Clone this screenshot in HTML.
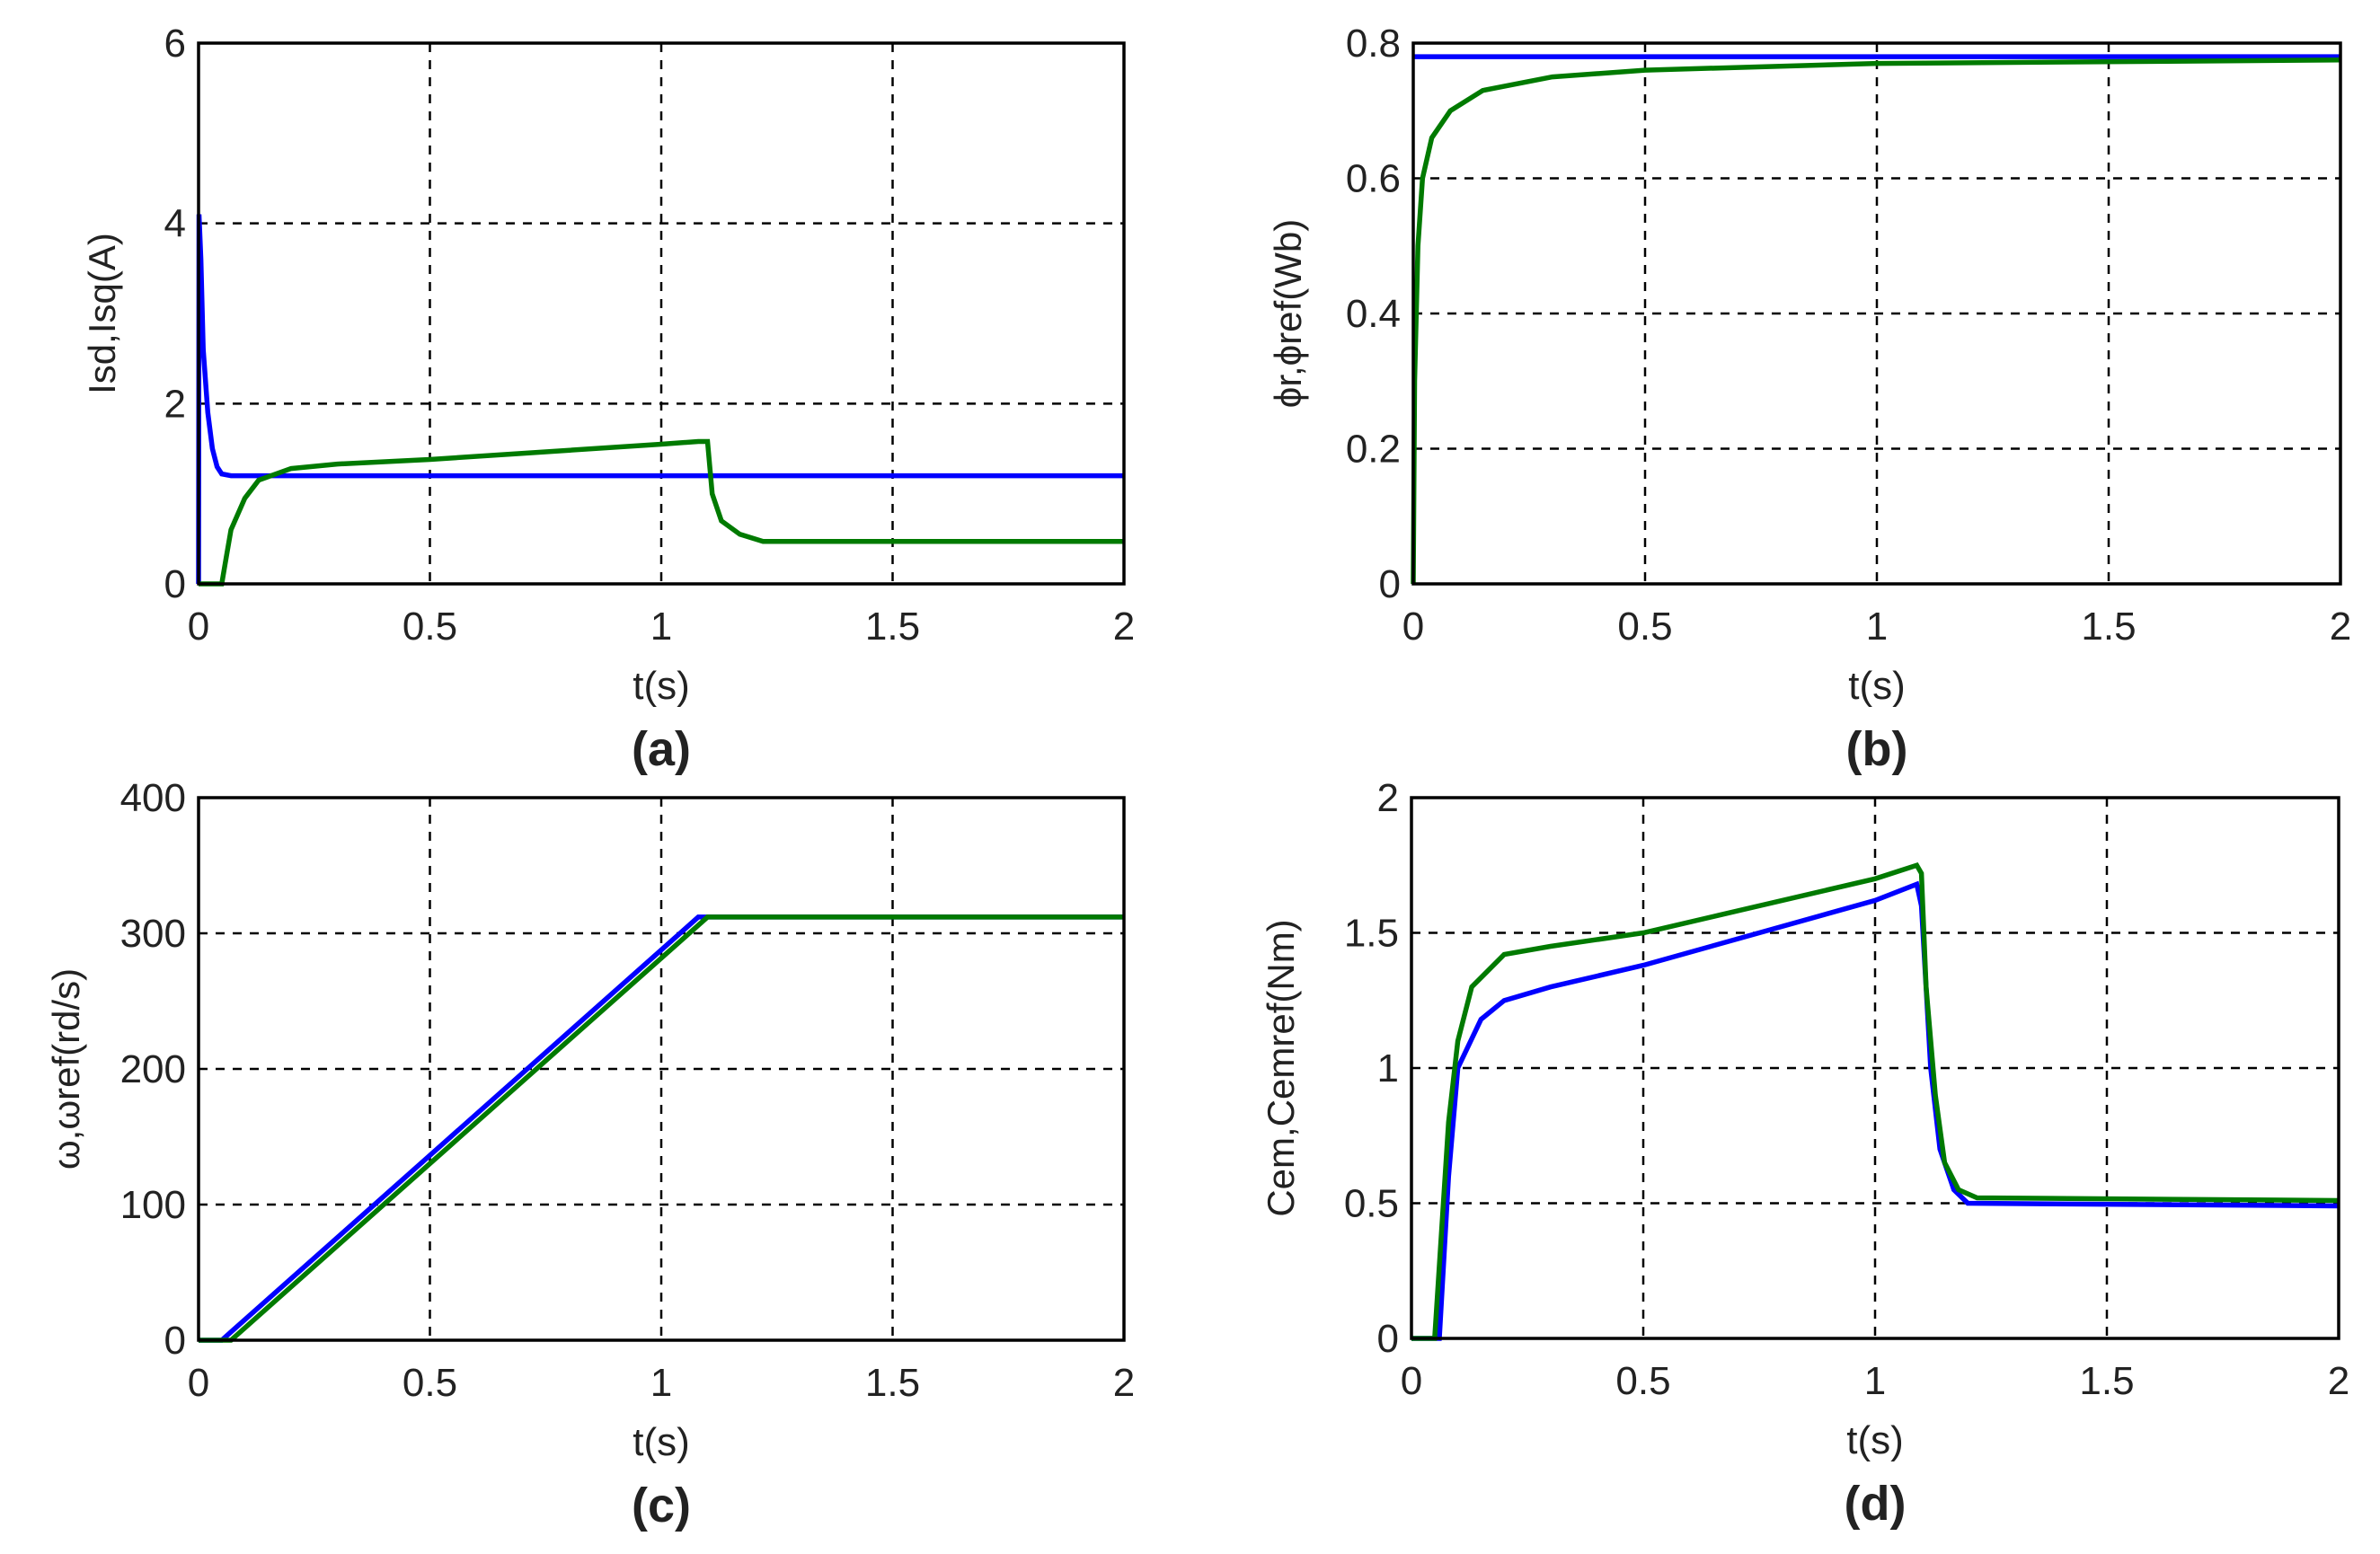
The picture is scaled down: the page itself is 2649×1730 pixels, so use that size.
<!DOCTYPE html>
<html><head><meta charset="utf-8"><style>
html,body{margin:0;padding:0;background:#fff;}
svg{display:block;}
text{font-family:"Liberation Sans",Arial,sans-serif;fill:#222;}
</style></head><body>
<svg id="fig" width="2649" height="1730" viewBox="0 0 2649 1730" xmlns="http://www.w3.org/2000/svg"></svg>
<script>
// ---- data ----
const xTicks=[0,0.5,1,1.5,2];
const xTickLabels=["0","0.5","1","1.5","2"];
const aYTicks=[0,2,4,6];
const aIsdT=[0,0.001,0.005,0.01,0.02,0.03,0.04,0.05,0.07,0.1,2];
const aIsdV=[0,4.1,3.6,2.6,1.9,1.5,1.3,1.22,1.2,1.2,1.2];
const aIsqT=[0,0.05,0.06,0.07,0.1,0.13,0.2,0.3,0.5,1.0,1.08,1.1,1.11,1.13,1.17,1.22,2];
const aIsqV=[0,0,0.3,0.6,0.95,1.15,1.28,1.33,1.38,1.55,1.58,1.58,1.0,0.7,0.55,0.47,0.47];
const bYTicks=[0,0.2,0.4,0.6,0.8];
const bPhirT=[0,0.003,0.01,0.02,0.04,0.08,0.15,0.3,0.5,1,2];
const bPhirV=[0,0.3,0.5,0.6,0.66,0.7,0.73,0.75,0.76,0.77,0.775];
const bRefT=[0,2];
const bRefV=[0.78,0.78];
const cYTicks=[0,100,200,300,400];
const cWT=[0,0.05,1.08,2];
const cWV=[0,0,312,312];
const cRefT=[0,0.07,1.1,2];
const cRefV=[0,0,312,312];
const dYTicks=[0,0.5,1,1.5,2];
const dYTickLabels=["0","0.5","1","1.5","2"];
const dCemT=[0,0.06,0.08,0.1,0.15,0.2,0.3,0.5,1.0,1.09,1.1,1.12,1.14,1.17,1.2,2];
const dCemV=[0,0,0.6,1.0,1.18,1.25,1.3,1.38,1.62,1.68,1.6,1.0,0.7,0.55,0.5,0.49];
const dRefT=[0,0.05,0.08,0.1,0.13,0.2,0.3,0.5,1.0,1.09,1.1,1.11,1.13,1.15,1.18,1.22,2];
const dRefV=[0,0,0.8,1.1,1.3,1.42,1.45,1.5,1.7,1.75,1.72,1.3,0.9,0.65,0.55,0.52,0.51];

const NS="http://www.w3.org/2000/svg";
const svg=document.getElementById('fig');
function mk(tag,attrs,parent){const e=document.createElementNS(NS,tag);for(const k in attrs)e.setAttribute(k,attrs[k]);(parent||svg).appendChild(e);return e;}

function panel(o){
  const g=mk('g',{});
  
  
  const X=t=>o.l+(t-0)/(2-0)*(o.r-o.l);
  const Y=v=>o.b-(v-o.ymin)/(o.ymax-o.ymin)*(o.b-o.t);
  // grid
  xTicks.forEach((t,i)=>{
    if(i>0&&i<xTicks.length-1){const ln=mk('line',{x1:X(t),x2:X(t),y1:o.t,y2:o.b,stroke:'#000','stroke-width':2.5,'stroke-dasharray':'10,9'},g);
    }
    const tx=mk('text',{x:X(t),y:o.b+62,'font-size':44,'text-anchor':'middle'},g);tx.textContent=xTickLabels[i];
    
  });
  o.yt.forEach((v,i)=>{
    if(i>0&&i<o.yt.length-1){const ln=mk('line',{x1:o.l,x2:o.r,y1:Y(v),y2:Y(v),stroke:'#000','stroke-width':2.5,'stroke-dasharray':'10,9'},g);
    }
    const tx=mk('text',{x:o.l-14,y:Y(v)+15,'font-size':44,'text-anchor':'end'},g);tx.textContent=o.ytl?o.ytl[i]:String(v);
    
  });
  // series
  o.series.forEach(s=>{
    const d=s.t.map((t,i)=>(i?'L':'M')+X(t).toFixed(1)+','+Y(s.v[i]).toFixed(1)).join(' ');
    const p=mk('path',{d:d,fill:'none',stroke:s.c,'stroke-width':5.5,'stroke-linejoin':'miter'},g);
    
  });
  const box=mk('rect',{x:o.l,y:o.t,width:o.r-o.l,height:o.b-o.t,fill:'none',stroke:'#000','stroke-width':3.5},g);
  
  const yl=mk('text',{x:0,y:0,'font-size':42,'text-anchor':'middle',transform:`translate(${o.ylx},${(o.t+o.b)/2}) rotate(-90)`},g);
  yl.textContent=o.ylabel;
  const xl=mk('text',{x:(o.l+o.r)/2,y:o.b+128,'font-size':44,'text-anchor':'middle'},g);
  xl.textContent='t(s)';
  const cap=mk('text',{x:(o.l+o.r)/2,y:o.b+202,'font-size':54,'font-weight':'bold','text-anchor':'middle',fill:'#000'},g);
  cap.textContent=o.cap;
}
const B='#0000ff',G='#007a00';
panel({name:'panel-a-currents',l:221,r:1251,t:48,b:650,ymin:0,ymax:6,yt:aYTicks,ylabel:'Isd,Isq(A)',ylx:128,cap:'(a)',
  series:[{name:'isd-line',t:aIsdT,v:aIsdV,c:B},{name:'isq-line',t:aIsqT,v:aIsqV,c:G}]});
panel({name:'panel-b-flux',l:1573,r:2605,t:48,b:650,ymin:0,ymax:0.8,yt:bYTicks,ylabel:'ϕr,ϕref(Wb)',ylx:1448,cap:'(b)',
  series:[{name:'phiref-line',t:bRefT,v:bRefV,c:B},{name:'phir-line',t:bPhirT,v:bPhirV,c:G}]});
panel({name:'panel-c-speed',l:221,r:1251,t:888,b:1492,ymin:0,ymax:400,yt:cYTicks,ylabel:'ω,ωref(rd/s)',ylx:88,cap:'(c)',
  series:[{name:'omega-line',t:cWT,v:cWV,c:B},{name:'omegaref-line',t:cRefT,v:cRefV,c:G}]});
panel({name:'panel-d-torque',l:1571,r:2603,t:888,b:1490,ymin:0,ymax:2,yt:dYTicks,ytl:dYTickLabels,ylabel:'Cem,Cemref(Nm)',ylx:1440,cap:'(d)',
  series:[{name:'cem-line',t:dCemT,v:dCemV,c:B},{name:'cemref-line',t:dRefT,v:dRefV,c:G}]});
</script>
</body></html>
